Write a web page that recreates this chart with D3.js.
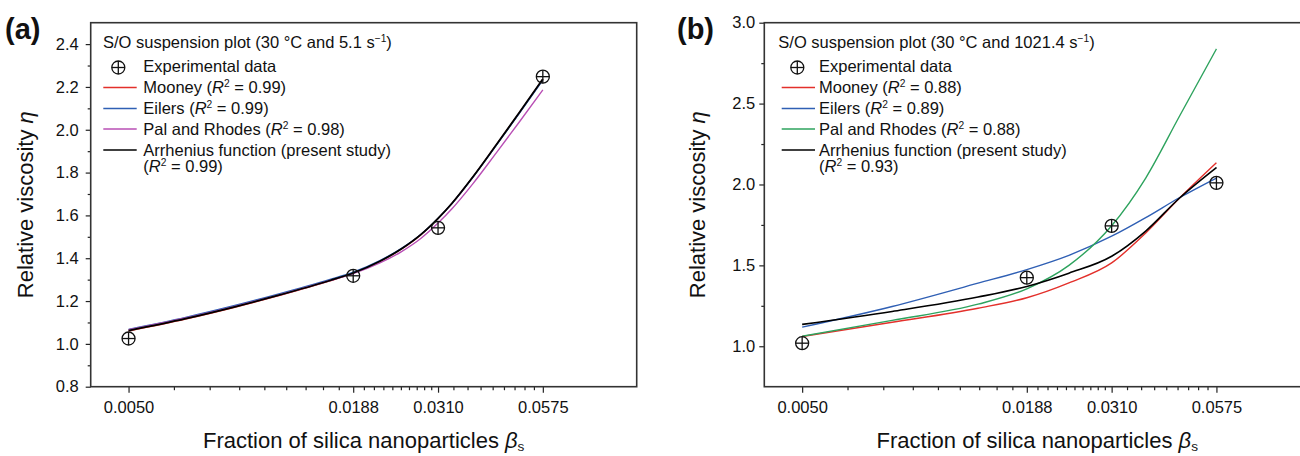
<!DOCTYPE html>
<html><head><meta charset="utf-8">
<script src="https://cdn.jsdelivr.net/npm/d3@7"></script>
<style>
body{margin:0;background:#fff}
svg{display:block}
text{font-family:"Liberation Sans",Arial,Helvetica,sans-serif;fill:#111}
</style>
</head><body>
<svg id="chart" width="1300" height="456"></svg>
<script>
// ---------- data ----------
const xMajorTicks = [0.0050, 0.0188, 0.0310, 0.0575];
const xTickLabels = ["0.0050", "0.0188", "0.0310", "0.0575"];
const xMinorPerInterval = [9, 10, 9];

const yTicksA = [0.8, 1.0, 1.2, 1.4, 1.6, 1.8, 2.0, 2.2, 2.4];
const yTickLabelsA = ["0.8", "1.0", "1.2", "1.4", "1.6", "1.8", "2.0", "2.2", "2.4"];
const yMinorA = [0.9, 1.1, 1.3, 1.5, 1.7, 1.9, 2.1, 2.3];
const yTicksB = [1.0, 1.5, 2.0, 2.5, 3.0];
const yTickLabelsB = ["1.0", "1.5", "2.0", "2.5", "3.0"];
const yMinorB = [1.25, 1.75, 2.25, 2.75];

// experimental points (same fractions as major ticks)
const expA = [1.025, 1.318, 1.542, 2.248];
const expB = [1.019, 1.424, 1.744, 2.010];

// model curves, panel (a)
const curveXA = [0.005, 0.007, 0.0093, 0.012, 0.0164, 0.0188, 0.022, 0.025, 0.028, 0.031, 0.0337, 0.038, 0.0437, 0.05, 0.0575];
const mooneyA = [1.060, 1.116, 1.170, 1.223, 1.294, 1.330, 1.385, 1.443, 1.509, 1.585, 1.657, 1.777, 1.929, 2.078, 2.236];
const eilersA = [1.068, 1.124, 1.178, 1.231, 1.301, 1.335, 1.389, 1.446, 1.511, 1.586, 1.657, 1.776, 1.927, 2.075, 2.232];
const palA    = [1.066, 1.121, 1.174, 1.226, 1.296, 1.328, 1.378, 1.431, 1.492, 1.564, 1.632, 1.746, 1.892, 2.035, 2.186];
const arrA    = [1.062, 1.118, 1.172, 1.225, 1.296, 1.331, 1.386, 1.444, 1.510, 1.586, 1.658, 1.778, 1.930, 2.079, 2.237];

// model curves, panel (b)
const curveXB = [0.005, 0.0085, 0.0141, 0.0188, 0.0241, 0.031, 0.0379, 0.0462, 0.0575];
const mooneyB = [1.060, 1.148, 1.235, 1.300, 1.392, 1.515, 1.700, 1.915, 2.135];
const eilersB = [1.118, 1.246, 1.390, 1.474, 1.562, 1.680, 1.795, 1.918, 2.040];
const palB    = [1.062, 1.160, 1.260, 1.355, 1.500, 1.745, 2.040, 2.420, 2.838];
const arrB    = [1.135, 1.215, 1.304, 1.370, 1.452, 1.556, 1.712, 1.915, 2.105];

const colors = {mooney: "#e3302b", eilers: "#2f5fb4", palA: "#b94fb5", palB: "#2ea35e", arr: "#000000"};

// ---------- drawing ----------
const svg = d3.select("#chart");
const FONT_TICK = 16.5;
const FONT_LEG = 16.5;
const FONT_AXIS = 22;

function drawPanel(cfg) {
  const g = svg.append("g");
  const x = d3.scaleLog().domain([0.004, 0.1]).range([cfg.left, cfg.right]);
  const y = d3.scaleLinear().domain(cfg.yDomain).range([cfg.bottom, cfg.top]);

  const clipId = "clip" + cfg.id;
  svg.append("clipPath").attr("id", clipId).append("rect")
    .attr("x", cfg.left).attr("y", cfg.top).attr("width", cfg.right - cfg.left).attr("height", cfg.bottom - cfg.top);

  // minor x ticks: even subdivisions between labelled ticks
  const minor = [];
  for (let i = 0; i < xMajorTicks.length - 1; i++) {
    const a = xMajorTicks[i], b = xMajorTicks[i + 1], n = xMinorPerInterval[i];
    for (let k = 1; k < n; k++) minor.push(a + (b - a) * k / n);
  }
  const xAxisMinor = d3.axisBottom(x).tickValues(minor).tickSize(3.5).tickFormat("");
  const xAxisMajor = d3.axisBottom(x).tickValues(xMajorTicks).tickSize(6).tickPadding(9)
    .tickFormat((d, i) => xTickLabels[i]);
  const gxm = g.append("g").attr("transform", `translate(0,${cfg.bottom})`).call(xAxisMinor);
  const gx = g.append("g").attr("transform", `translate(0,${cfg.bottom})`).call(xAxisMajor);
  [gxm, gx].forEach(s => { s.select(".domain").remove(); s.selectAll("line").attr("stroke", "#222").attr("stroke-width", 1.2); });
  gx.selectAll("text").attr("font-size", FONT_TICK).attr("fill", "#111").style("font-family", "Liberation Sans, Arial, sans-serif");

  const yAxisMinor = d3.axisLeft(y).tickValues(cfg.yMinor).tickSize(3).tickFormat("");
  const yAxisMajor = d3.axisLeft(y).tickValues(cfg.yTicks).tickSize(5).tickPadding(cfg.yPad)
    .tickFormat((d, i) => cfg.yLabels[i]);
  const gym = g.append("g").attr("transform", `translate(${cfg.left},0)`).call(yAxisMinor);
  const gy = g.append("g").attr("transform", `translate(${cfg.left},0)`).call(yAxisMajor);
  [gym, gy].forEach(s => { s.select(".domain").remove(); s.selectAll("line").attr("stroke", "#222").attr("stroke-width", 1.2); });
  gy.selectAll("text").attr("font-size", FONT_TICK).attr("fill", "#111").style("font-family", "Liberation Sans, Arial, sans-serif");

  // frame
  g.append("rect").attr("x", cfg.left).attr("y", cfg.top)
    .attr("width", cfg.right - cfg.left).attr("height", cfg.bottom - cfg.top)
    .attr("fill", "none").attr("stroke", "#333").attr("stroke-width", 1.6);

  // curves
  const line = d3.line().x(d => x(d[0])).y(d => y(d[1])).curve(d3.curveMonotoneX);
  const cg = g.append("g").attr("clip-path", `url(#${clipId})`);
  cfg.series.forEach(s => {
    cg.append("path").datum(s.xs.map((v, i) => [v, s.ys[i]]))
      .attr("d", line).attr("fill", "none").attr("stroke", s.color).attr("stroke-width", s.w);
  });

  // experimental markers
  const r = 6.5;
  const mk = g.append("g");
  function marker(sel, cx, cy) {
    sel.append("circle").attr("cx", cx).attr("cy", cy).attr("r", r).attr("fill", "none").attr("stroke", "#111").attr("stroke-width", 1.3);
    sel.append("line").attr("x1", cx - r).attr("x2", cx + r).attr("y1", cy).attr("y2", cy).attr("stroke", "#111").attr("stroke-width", 1.3);
    sel.append("line").attr("x1", cx).attr("x2", cx).attr("y1", cy - r).attr("y2", cy + r).attr("stroke", "#111").attr("stroke-width", 1.3);
  }
  cfg.exp.forEach((v, i) => marker(mk, x(xMajorTicks[i]), y(v)));

  // axis titles
  const xt = g.append("text").attr("x", (cfg.left + cfg.right) / 2).attr("y", 448)
    .attr("text-anchor", "middle").attr("font-size", FONT_AXIS);
  xt.append("tspan").text("Fraction of silica nanoparticles ");
  xt.append("tspan").attr("font-style", "italic").text("β");
  xt.append("tspan").attr("font-size", FONT_AXIS * 0.62).attr("dy", 3).text("s");

  const yt = g.append("text").attr("transform", `translate(${cfg.yTitleX},${(cfg.top + cfg.bottom) / 2}) rotate(-90)`)
    .attr("text-anchor", "middle").attr("font-size", FONT_AXIS);
  yt.append("tspan").text("Relative viscosity ");
  yt.append("tspan").attr("font-style", "italic").text("η");

  // panel label
  g.append("text").attr("x", cfg.labelX).attr("y", 39).attr("font-size", 29).attr("font-weight", "bold").text(cfg.label);

  // legend
  const L = cfg.legend;
  const t0 = g.append("text").attr("x", L.titleX).attr("y", 47.5).attr("font-size", FONT_LEG);
  t0.append("tspan").text(L.title);
  t0.append("tspan").attr("font-size", FONT_LEG * 0.62).attr("dy", -6).text("−1");
  t0.append("tspan").attr("dy", 6).text(")");

  marker(g, L.markerX, 67.5);
  g.append("text").attr("x", L.textX).attr("y", 71.5).attr("font-size", FONT_LEG).text("Experimental data");

  const rows = [93, 114, 134.5, 155.5];
  L.entries.forEach((e, i) => {
    const by = rows[i];
    g.append("line").attr("x1", L.lineX1).attr("x2", L.lineX2).attr("y1", by - 5.5).attr("y2", by - 5.5)
      .attr("stroke", e.color).attr("stroke-width", 1.4);
    const tx = g.append("text").attr("x", L.textX).attr("y", by).attr("font-size", FONT_LEG);
    if (e.r2 === null) {
      tx.text(e.name);
    } else {
      tx.append("tspan").text(e.name + " (");
      tx.append("tspan").attr("font-style", "italic").text("R");
      tx.append("tspan").attr("font-size", FONT_LEG * 0.62).attr("dy", -6).text("2");
      tx.append("tspan").attr("dy", 6).text(" = " + e.r2 + ")");
    }
  });
  const tl = g.append("text").attr("x", L.textX).attr("y", 172).attr("font-size", FONT_LEG);
  tl.append("tspan").text("(");
  tl.append("tspan").attr("font-style", "italic").text("R");
  tl.append("tspan").attr("font-size", FONT_LEG * 0.62).attr("dy", -6).text("2");
  tl.append("tspan").attr("dy", 6).text(" = " + L.arrR2 + ")");
}

const modelNames = ["Mooney", "Eilers", "Pal and Rhodes", "Arrhenius function (present study)"];
const r2A = ["0.99", "0.99", "0.98", null];
const r2B = ["0.88", "0.89", "0.88", null];

function legendEntries(r2, palColor) {
  const cols = [colors.mooney, colors.eilers, palColor, colors.arr];
  return modelNames.map((n, i) => ({name: n, color: cols[i], r2: r2[i]}));
}

drawPanel({
  id: "A", left: 90.7, right: 636.7, top: 22.7, bottom: 386.7,
  yDomain: [0.8, 2.5], yTicks: yTicksA, yLabels: yTickLabelsA, yMinor: yMinorA, yPad: 7,
  yTitleX: 33, labelX: 5, label: "(a)",
  exp: expA,
  series: [
    {xs: curveXA, ys: mooneyA, color: colors.mooney, w: 1.4},
    {xs: curveXA, ys: eilersA, color: colors.eilers, w: 1.4},
    {xs: curveXA, ys: palA, color: colors.palA, w: 1.4},
    {xs: curveXA, ys: arrA, color: colors.arr, w: 1.8}
  ],
  legend: {title: "S/O suspension plot (30 °C and 5.1 s", titleX: 103, markerX: 118.3, textX: 143.3,
    lineX1: 103.3, lineX2: 136.7, entries: legendEntries(r2A, colors.palA), arrR2: "0.99"}
});

drawPanel({
  id: "B", left: 764.3, right: 1310.3, top: 22.7, bottom: 386.7,
  yDomain: [0.75, 3.0], yTicks: yTicksB, yLabels: yTickLabelsB, yMinor: yMinorB, yPad: 4,
  yTitleX: 705, labelX: 677, label: "(b)",
  exp: expB,
  series: [
    {xs: curveXB, ys: mooneyB, color: colors.mooney, w: 1.4},
    {xs: curveXB, ys: eilersB, color: colors.eilers, w: 1.4},
    {xs: curveXB, ys: palB, color: colors.palB, w: 1.4},
    {xs: curveXB, ys: arrB, color: colors.arr, w: 1.6}
  ],
  legend: {title: "S/O suspension plot (30 °C and 1021.4 s", titleX: 778.3, markerX: 797.3, textX: 819,
    lineX1: 781.7, lineX2: 815, entries: legendEntries(r2B, colors.palB), arrR2: "0.93"}
});
</script>
</body></html>
